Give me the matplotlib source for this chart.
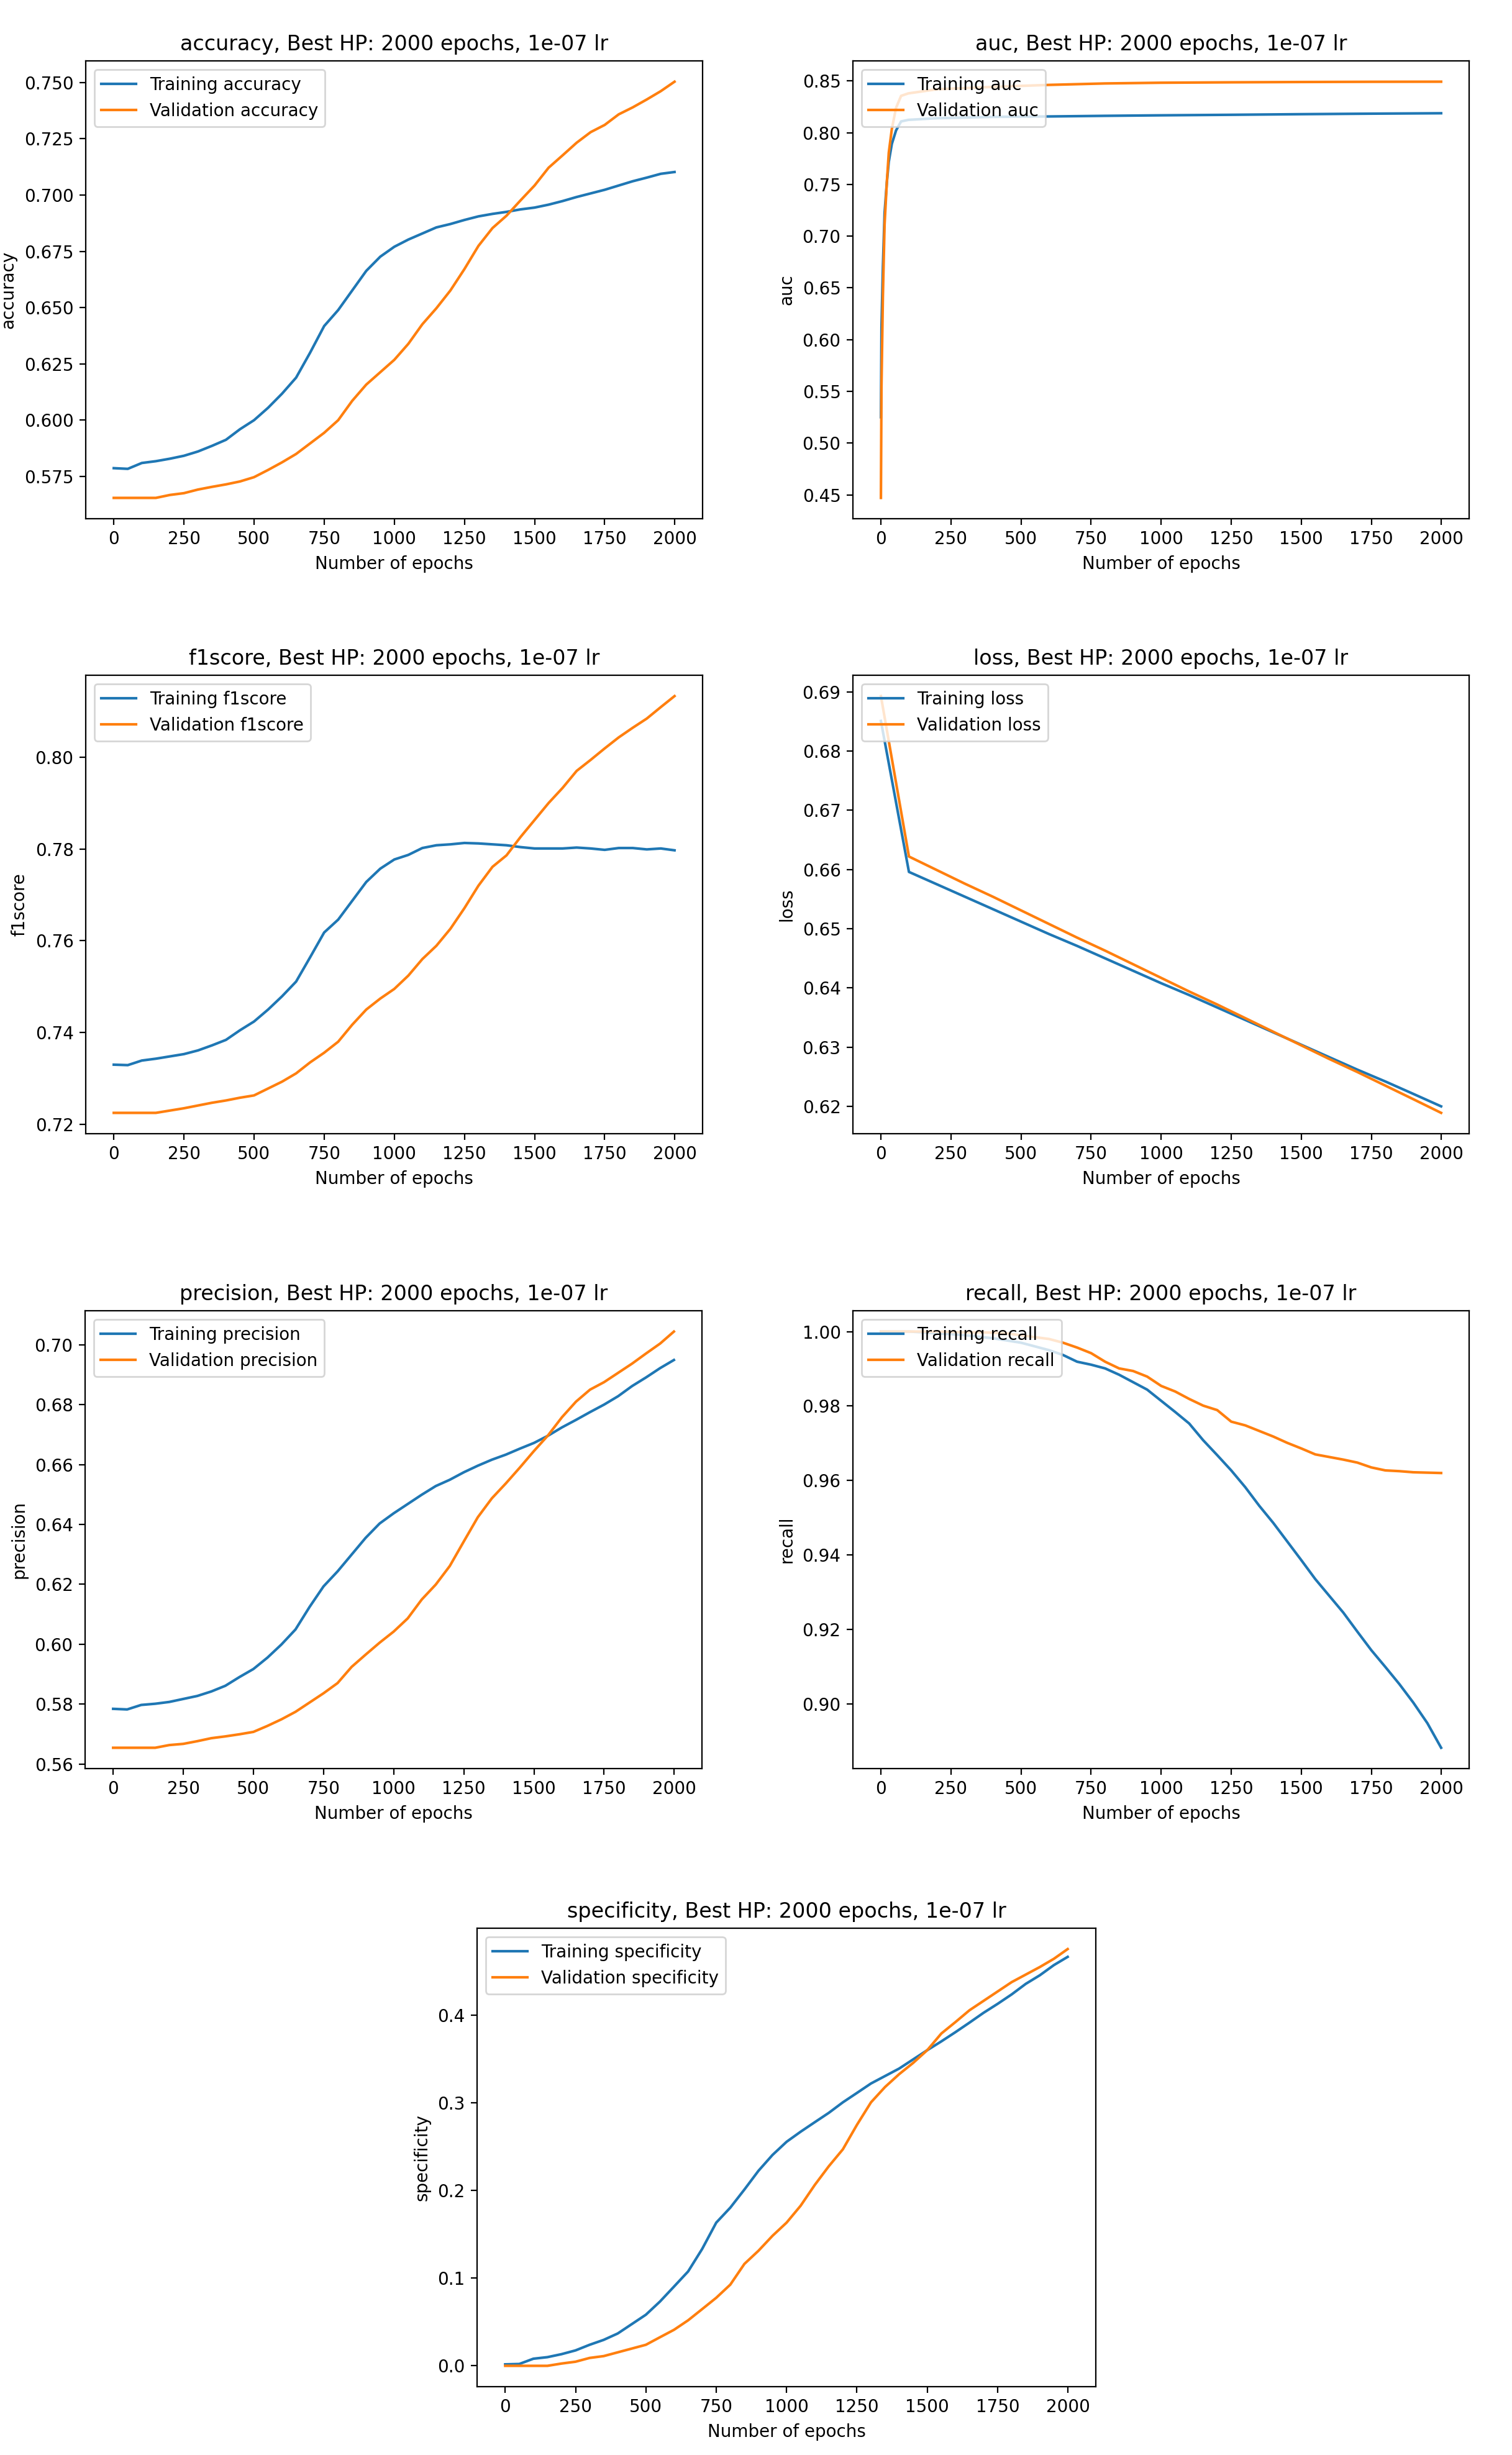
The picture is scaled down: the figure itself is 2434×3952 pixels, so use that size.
import matplotlib
matplotlib.use("Agg")
import matplotlib.pyplot as plt

# ---------------- data ----------------
epochs_50 = [0, 50, 100, 150, 200, 250, 300, 350, 400, 450, 500, 550, 600, 650, 700,
             750, 800, 850, 900, 950, 1000, 1050, 1100, 1150, 1200, 1250, 1300, 1350,
             1400, 1450, 1500, 1550, 1600, 1650, 1700, 1750, 1800, 1850, 1900, 1950, 1999]

train_accuracy = [0.5787, 0.5784, 0.5810, 0.5818, 0.5829, 0.5842, 0.5861, 0.5886, 0.5913, 0.5960,
                  0.6000, 0.6055, 0.6118, 0.6189, 0.6300, 0.6418, 0.6489, 0.6576, 0.6663, 0.6726,
                  0.6770, 0.6802, 0.6829, 0.6856, 0.6871, 0.6889, 0.6905, 0.6916, 0.6925, 0.6936,
                  0.6944, 0.6957, 0.6973, 0.6991, 0.7007, 0.7023, 0.7042, 0.7061, 0.7077, 0.7094, 0.7102]
val_accuracy = [0.5655, 0.5655, 0.5655, 0.5655, 0.5668, 0.5676, 0.5692, 0.5704, 0.5715, 0.5728,
                0.5747, 0.5779, 0.5813, 0.5850, 0.5897, 0.5944, 0.6000, 0.6086, 0.6158, 0.6213,
                0.6268, 0.6339, 0.6426, 0.6497, 0.6576, 0.6671, 0.6774, 0.6853, 0.6908, 0.6976,
                0.7042, 0.7121, 0.7176, 0.7232, 0.7279, 0.7311, 0.7358, 0.7389, 0.7424, 0.7461, 0.7503]

epochs_auc = [0, 2, 7, 13, 21, 28, 39, 54, 72, 98, 200, 400, 600, 800, 1000, 1250, 1500, 1750, 1999]
train_auc = [0.525, 0.612, 0.670, 0.7225, 0.7515, 0.7718, 0.7892, 0.8022, 0.8109, 0.8124,
             0.8140, 0.8153, 0.8157, 0.8163, 0.8168, 0.8173, 0.8179, 0.8184, 0.8188]
val_auc = [0.447, 0.5544, 0.6413, 0.7109, 0.7515, 0.7806, 0.8037, 0.8240, 0.8356, 0.8380,
           0.8420, 0.8443, 0.8462, 0.8476, 0.8483, 0.8487, 0.8490, 0.8492, 0.8493]

train_f1score = [0.7330, 0.7329, 0.7339, 0.7343, 0.7348, 0.7353, 0.7361, 0.7372, 0.7384, 0.7405,
                 0.7424, 0.7450, 0.7479, 0.7511, 0.7564, 0.7618, 0.7646, 0.7687, 0.7728, 0.7757,
                 0.7777, 0.7787, 0.7802, 0.7808, 0.7810, 0.7813, 0.7812, 0.7810, 0.7808, 0.7804,
                 0.7801, 0.7801, 0.7801, 0.7803, 0.7801, 0.7798, 0.7802, 0.7802, 0.7799, 0.7801, 0.7797]
val_f1score = [0.7225, 0.7225, 0.7225, 0.7225, 0.7230, 0.7235, 0.7241, 0.7247, 0.7252, 0.7258,
               0.7263, 0.7278, 0.7293, 0.7311, 0.7335, 0.7356, 0.7380, 0.7417, 0.7450, 0.7474,
               0.7495, 0.7524, 0.7560, 0.7589, 0.7626, 0.7671, 0.7720, 0.7761, 0.7786, 0.7826,
               0.7863, 0.7900, 0.7933, 0.7970, 0.7994, 0.8019, 0.8043, 0.8064, 0.8084, 0.8109, 0.8133]

epochs_loss = [0, 100, 200, 300, 400, 500, 600, 700, 800, 900, 1000, 1100, 1200, 1300, 1400,
               1500, 1600, 1700, 1800, 1900, 1999]
train_loss = [0.6851, 0.6596, 0.6575, 0.6554, 0.6533, 0.6512, 0.6491, 0.6471, 0.6450, 0.6429,
              0.6408, 0.6388, 0.6367, 0.6346, 0.6325, 0.6304, 0.6283, 0.6262, 0.6242, 0.6221, 0.6200]
val_loss = [0.6893, 0.6622, 0.6599, 0.6576, 0.6554, 0.6531, 0.6508, 0.6485, 0.6463, 0.6440,
            0.6417, 0.6394, 0.6372, 0.6349, 0.6326, 0.6303, 0.6280, 0.6258, 0.6235, 0.6212, 0.6189]

train_precision = [0.5784, 0.5782, 0.5797, 0.5801, 0.5807, 0.5817, 0.5827, 0.5842, 0.5861, 0.5890,
                   0.5917, 0.5955, 0.5999, 0.6049, 0.6124, 0.6193, 0.6243, 0.6299, 0.6355, 0.6403,
                   0.6437, 0.6468, 0.6499, 0.6528, 0.6549, 0.6574, 0.6596, 0.6616, 0.6633, 0.6653,
                   0.6672, 0.6696, 0.6724, 0.6749, 0.6775, 0.6800, 0.6828, 0.6862, 0.6891, 0.6922, 0.6949]
val_precision = [0.5654, 0.5654, 0.5654, 0.5654, 0.5663, 0.5667, 0.5676, 0.5686, 0.5692, 0.5699,
                 0.5707, 0.5727, 0.5749, 0.5774, 0.5805, 0.5836, 0.5870, 0.5924, 0.5965, 0.6005,
                 0.6042, 0.6086, 0.6149, 0.6199, 0.6261, 0.6343, 0.6424, 0.6487, 0.6537, 0.6590,
                 0.6645, 0.6697, 0.6758, 0.6810, 0.6850, 0.6875, 0.6906, 0.6937, 0.6971, 0.7004, 0.7044]

train_recall = [1.0000, 1.0000, 1.0000, 0.9998, 0.9995, 0.9993, 0.9990, 0.9986, 0.9982, 0.9976,
                0.9970, 0.9960, 0.9950, 0.9937, 0.9919, 0.9911, 0.9901, 0.9884, 0.9864, 0.9844,
                0.9814, 0.9784, 0.9753, 0.9708, 0.9668, 0.9627, 0.9582, 0.9532, 0.9486, 0.9436,
                0.9386, 0.9335, 0.9290, 0.9245, 0.9194, 0.9144, 0.9099, 0.9053, 0.9003, 0.8948, 0.8882]
val_recall = [1.0000, 1.0000, 1.0000, 1.0000, 1.0000, 0.9999, 0.9998, 0.9998, 0.9997, 0.9995,
              0.9990, 0.9985, 0.9980, 0.9970, 0.9957, 0.9942, 0.9919, 0.9901, 0.9894, 0.9879,
              0.9854, 0.9839, 0.9819, 0.9801, 0.9789, 0.9758, 0.9748, 0.9733, 0.9718, 0.9701,
              0.9686, 0.9670, 0.9663, 0.9656, 0.9648, 0.9635, 0.9627, 0.9625, 0.9622, 0.9621, 0.9620]

train_specificity = [0.0017, 0.0021, 0.0081, 0.0099, 0.0133, 0.0176, 0.0240, 0.0296, 0.0369, 0.0476,
                     0.0583, 0.0733, 0.0904, 0.1076, 0.1333, 0.1633, 0.1804, 0.2010, 0.2224, 0.2405,
                     0.2555, 0.2670, 0.2778, 0.2885, 0.3005, 0.3112, 0.3220, 0.3305, 0.3390, 0.3495,
                     0.3600, 0.3700, 0.3805, 0.3914, 0.4026, 0.4128, 0.4236, 0.4356, 0.4454, 0.4570, 0.4664]
val_specificity = [0.0000, 0.0000, 0.0000, 0.0000, 0.0026, 0.0047, 0.0090, 0.0111, 0.0154, 0.0197,
                   0.0240, 0.0326, 0.0411, 0.0519, 0.0647, 0.0776, 0.0926, 0.1162, 0.1312, 0.1483,
                   0.1633, 0.1826, 0.2062, 0.2276, 0.2469, 0.2748, 0.3005, 0.3180, 0.3326, 0.3455,
                   0.3600, 0.3790, 0.3920, 0.4055, 0.4162, 0.4269, 0.4376, 0.4462, 0.4548, 0.4642, 0.4753]

metrics = ["accuracy", "auc", "f1score", "loss", "precision", "recall", "specificity"]
title_suffix = ", Best HP: 2000 epochs, 1e-07 lr"
xlabel = "Number of epochs"

series = {
    "accuracy": (epochs_50, train_accuracy, val_accuracy),
    "auc": (epochs_auc, train_auc, val_auc),
    "f1score": (epochs_50, train_f1score, val_f1score),
    "loss": (epochs_loss, train_loss, val_loss),
    "precision": (epochs_50, train_precision, val_precision),
    "recall": (epochs_50, train_recall, val_recall),
    "specificity": (epochs_50, train_specificity, val_specificity),
}

# ---------------- layout ----------------
W, H = 2434, 3952
DPI = 200
fig = plt.figure(figsize=(W / DPI, H / DPI), dpi=DPI)

# axes boxes in pixels: (left, top, right, bottom)
boxes = {
    "accuracy": (138, 98, 1131, 835),
    "auc": (1373, 98, 2365, 835),
    "f1score": (138, 1087, 1131, 1825),
    "loss": (1373, 1087, 2365, 1825),
    "precision": (137, 2110, 1130, 2847),
    "recall": (1373, 2110, 2365, 2847),
    "specificity": (768, 3104, 1764, 3842),
}

for m in metrics:
    l, t, r, b = boxes[m]
    ax = fig.add_axes([l / W, 1 - b / H, (r - l) / W, (b - t) / H])
    x, tr, va = series[m]
    ax.plot(x, tr, color="#1f77b4", lw=1.5, label="Training " + m)
    ax.plot(x, va, color="#ff7f0e", lw=1.5, label="Validation " + m)
    ax.set_title(m + title_suffix, fontsize=12)
    ax.set_xlabel(xlabel)
    ax.set_ylabel(m)
    ax.set_xticks([0, 250, 500, 750, 1000, 1250, 1500, 1750, 2000])
    ax.legend(loc="upper left")

fig.savefig("out.png", dpi=DPI)
